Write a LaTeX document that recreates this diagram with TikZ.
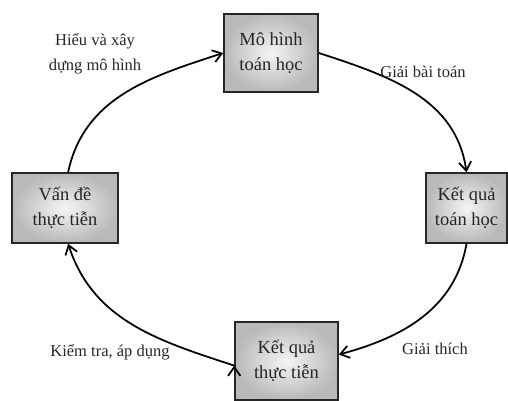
\documentclass[tikz,border=0pt]{standalone}
\usepackage{fontspec}
\setmainfont{Liberation Serif}
\usetikzlibrary{arrows.meta}

\tikzset{
  x=0.02cm, y=-0.02cm, % one unit is one pixel of the sketch
  box/.style={draw=black!85, line width=0.9pt, inner color=gray!8, outer color=gray!55,
              align=center, text=black!85, font=\fontsize{10.5}{14}\selectfont},
  lbl/.style={align=center, text=black!85, font=\fontsize{9.4}{14}\selectfont},
  flow/.style={-{Straight Barb[length=5pt,width=7pt]}, line width=1pt}, % the arcs of the cycle
}

\begin{document}
\begin{tikzpicture}
    \useasboundingbox (0,0) rectangle (508,401);
    \node[box, minimum width=1.88cm, minimum height=1.56cm] (mohinh) at (271,53) {Mô hình\\toán học};
    \node[box, minimum width=2.12cm, minimum height=1.4cm] (vande) at (65,208) {Vấn đề\\thực tiễn};
    \node[box, minimum width=1.62cm, minimum height=1.4cm] (kqtoan) at (466.5,208) {Kết quả\\toán học};
    \node[box, minimum width=2.06cm, minimum height=1.56cm] (kqthuc) at (286.5,361) {Kết quả\\thực tiễn};

    \draw[flow] (vande.85) edge[out=78, in=198] (mohinh.west)
                (mohinh.east) edge[out=-18, in=98] (kqtoan.north)
                (kqtoan.south) edge[out=-100, in=15] (kqthuc.7)
                (kqthuc.185) edge[out=162, in=-72] (vande.275);

    \node[lbl] (hieu) at (95,54) {Hiểu và xây\\dựng mô hình};
    \node[lbl] (giaibt) at (423,72) {Giải bài toán};
    \node[lbl] (giaith) at (435,349) {Giải thích};
    \node[lbl] (kiemtra) at (110,352) {Kiểm tra, áp dụng};
\end{tikzpicture}
\end{document}
